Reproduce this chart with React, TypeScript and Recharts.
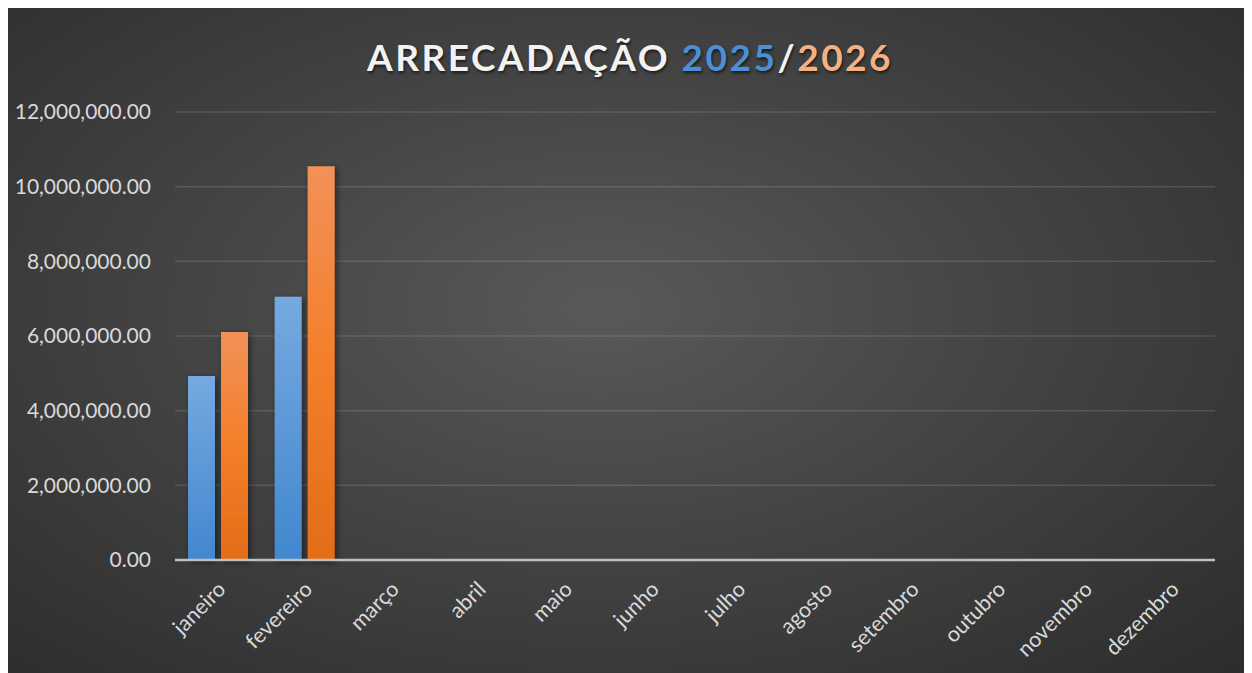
import { BarChart, Bar, XAxis, YAxis, CartesianGrid } from "recharts";

const months = [
  "janeiro", "fevereiro", "março", "abril", "maio", "junho",
  "julho", "agosto", "setembro", "outubro", "novembro", "dezembro",
];
const values2025 = [4930000, 7050000, null, null, null, null, null, null, null, null, null, null];
const values2026 = [6110000, 10550000, null, null, null, null, null, null, null, null, null, null];
const yTicks = [0, 2000000, 4000000, 6000000, 8000000, 10000000, 12000000];

const data = months.map((m, i) => ({ month: m, y2025: values2025[i], y2026: values2026[i] }));

const fmt = (v: number) =>
  v.toLocaleString("en-US", { minimumFractionDigits: 2, maximumFractionDigits: 2 });

const MonthTick = ({ x, y, payload }: any) => (
  <text
    x={0}
    y={0}
    transform={`translate(${x - 2},${y + 12}) rotate(-45)`}
    textAnchor="end"
    dy="0.7em"
    fill="#d9d9d9"
    fontSize={21.5}
    fontFamily="Lato, sans-serif"
  >
    {payload.value}
  </text>
);

export default function App() {
  return (
    <div
      style={{
        position: "relative",
        width: 1238,
        height: 665,
        marginLeft: -1,
        background: "radial-gradient(ellipse at 48% 45%, #595959 0%, #444 45%, #2c2c2c 100%)",
        fontFamily: "Lato, sans-serif",
      }}
    >
      <div
        style={{
          position: "absolute",
          top: 26,
          left: 4,
          width: "100%",
          textAlign: "center",
          fontSize: 37,
          fontWeight: 700,
          letterSpacing: 2.5,
          color: "#f2f2f2",
          textShadow: "1px 2px 3px rgba(0,0,0,0.6)",
        }}
      >
        ARRECADAÇÃO <span style={{ color: "#4d8fd6" }}>2025</span>/
        <span style={{ color: "#f4b183" }}>2026</span>
      </div>
      <BarChart
        width={1238}
        height={665}
        data={data}
        margin={{ top: 104, right: 30, bottom: 0, left: 0 }}
        barCategoryGap="15%"
        barGap={6}
        style={{ position: "absolute", top: 0, left: 0 }}
      >
        <defs>
          <linearGradient id="gBlue" x1="0" y1="0" x2="0" y2="1">
            <stop offset="0%" stopColor="#76a9e0" />
            <stop offset="100%" stopColor="#4287cf" />
          </linearGradient>
          <linearGradient id="gOrange" x1="0" y1="0" x2="0" y2="1">
            <stop offset="0%" stopColor="#f29158" />
            <stop offset="50%" stopColor="#f47f2a" />
            <stop offset="100%" stopColor="#e36c18" />
          </linearGradient>
          <filter id="shadow" x="-30%" y="-10%" width="160%" height="130%">
            <feDropShadow dx="2" dy="2" stdDeviation="3" floodColor="#000" floodOpacity="0.5" />
          </filter>
        </defs>
        <CartesianGrid vertical={false} stroke="rgba(255,255,255,0.12)" strokeWidth={1.5} />
        <YAxis
          domain={[0, 12000000]}
          ticks={yTicks}
          tickFormatter={fmt}
          width={168}
          axisLine={false}
          tickLine={false}
          tickSize={0}
          tickMargin={24}
          tick={{ fill: "#d9d9d9", fontSize: 21, fontFamily: "Lato, sans-serif" }}
        />
        <XAxis
          dataKey="month"
          height={113}
          interval={0}
          axisLine={{ stroke: "#bfbfbf", strokeWidth: 2.5 }}
          tickLine={false}
          tick={<MonthTick />}
        />
        <Bar dataKey="y2025" fill="url(#gBlue)" filter="url(#shadow)" isAnimationActive={false} />
        <Bar dataKey="y2026" fill="url(#gOrange)" filter="url(#shadow)" isAnimationActive={false} />
      </BarChart>
    </div>
  );
}
